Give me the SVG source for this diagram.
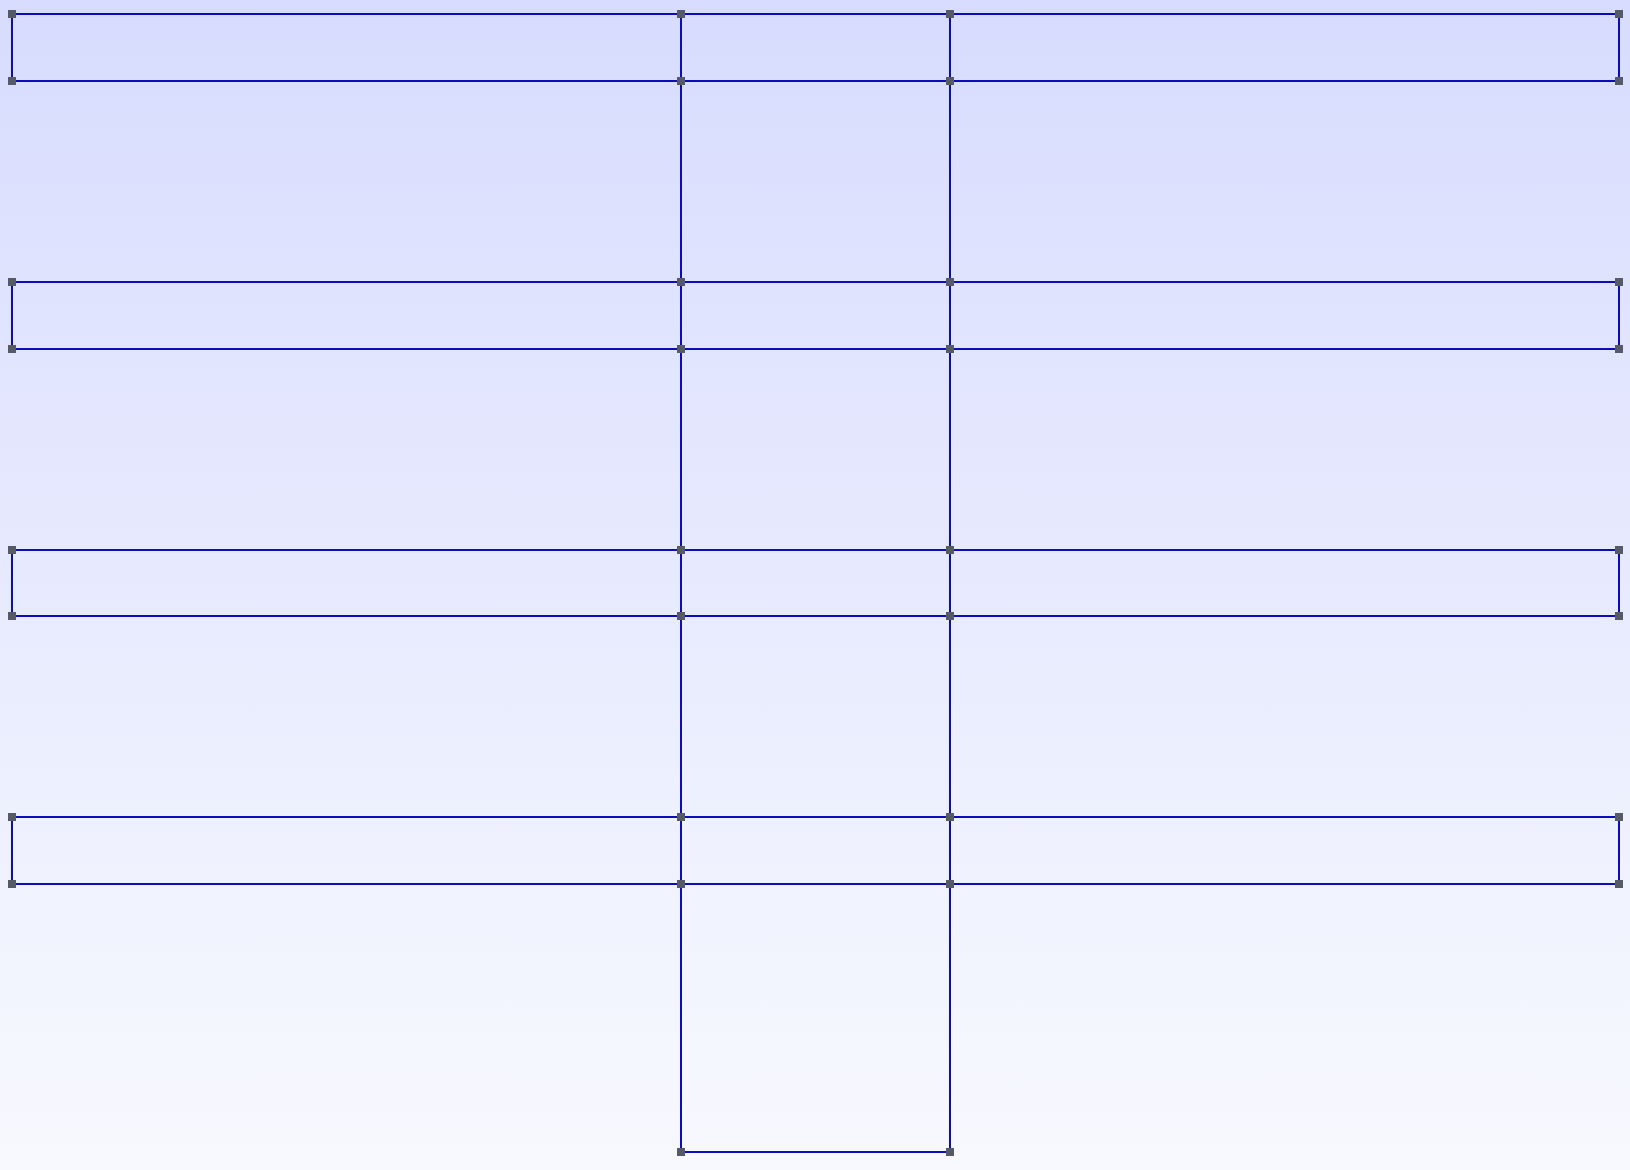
<svg xmlns="http://www.w3.org/2000/svg" width="1630" height="1170" viewBox="0 0 1630 1170">
<defs>
<linearGradient id="bg" x1="0" y1="0" x2="0" y2="1">
<stop offset="0" stop-color="#d7dcfe"/>
<stop offset="1" stop-color="#f8f9fe"/>
</linearGradient>
<rect id="h" x="-4" y="-4" width="8" height="8" fill="#555a66"/>
</defs>
<style>
.n{fill:none;stroke:#0c0cbc;stroke-width:2}
</style>
<rect width="1630" height="1170" fill="url(#bg)"/>
<g id="nodes">
<g id="r1l"><rect class="n" x="12" y="14" width="669" height="67"/></g>
<g id="r1m"><rect class="n" x="681" y="14" width="269" height="67"/></g>
<g id="r1r"><rect class="n" x="950" y="14" width="669" height="67"/></g>
<g id="c1"><rect class="n" x="681" y="81" width="269" height="201"/></g>
<g id="r2l"><rect class="n" x="12" y="282" width="669" height="67"/></g>
<g id="r2m"><rect class="n" x="681" y="282" width="269" height="67"/></g>
<g id="r2r"><rect class="n" x="950" y="282" width="669" height="67"/></g>
<g id="c2"><rect class="n" x="681" y="349" width="269" height="201"/></g>
<g id="r3l"><rect class="n" x="12" y="550" width="669" height="66"/></g>
<g id="r3m"><rect class="n" x="681" y="550" width="269" height="66"/></g>
<g id="r3r"><rect class="n" x="950" y="550" width="669" height="66"/></g>
<g id="c3"><rect class="n" x="681" y="616" width="269" height="201"/></g>
<g id="r4l"><rect class="n" x="12" y="817" width="669" height="67"/></g>
<g id="r4m"><rect class="n" x="681" y="817" width="269" height="67"/></g>
<g id="r4r"><rect class="n" x="950" y="817" width="669" height="67"/></g>
<g id="c4"><rect class="n" x="681" y="884" width="269" height="268"/></g>
</g>
<g id="connectors"></g>
<g id="handles">
<use href="#h" x="12" y="14"/><use href="#h" x="681" y="14"/><use href="#h" x="950" y="14"/><use href="#h" x="1619" y="14"/>
<use href="#h" x="12" y="81"/><use href="#h" x="681" y="81"/><use href="#h" x="950" y="81"/><use href="#h" x="1619" y="81"/>
<use href="#h" x="12" y="282"/><use href="#h" x="681" y="282"/><use href="#h" x="950" y="282"/><use href="#h" x="1619" y="282"/>
<use href="#h" x="12" y="349"/><use href="#h" x="681" y="349"/><use href="#h" x="950" y="349"/><use href="#h" x="1619" y="349"/>
<use href="#h" x="12" y="550"/><use href="#h" x="681" y="550"/><use href="#h" x="950" y="550"/><use href="#h" x="1619" y="550"/>
<use href="#h" x="12" y="616"/><use href="#h" x="681" y="616"/><use href="#h" x="950" y="616"/><use href="#h" x="1619" y="616"/>
<use href="#h" x="12" y="817"/><use href="#h" x="681" y="817"/><use href="#h" x="950" y="817"/><use href="#h" x="1619" y="817"/>
<use href="#h" x="12" y="884"/><use href="#h" x="681" y="884"/><use href="#h" x="950" y="884"/><use href="#h" x="1619" y="884"/>
<use href="#h" x="681" y="1152"/><use href="#h" x="950" y="1152"/>
</g>
</svg>
